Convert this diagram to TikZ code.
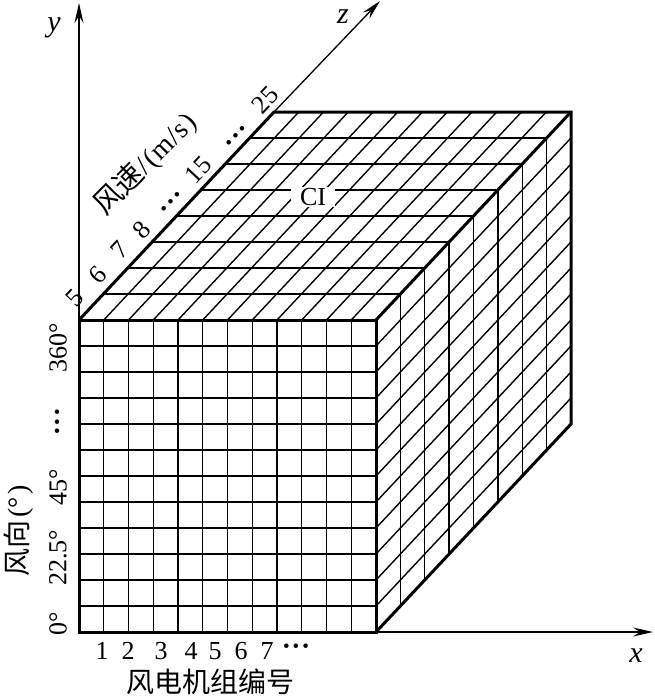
\documentclass[tikz,border=0pt]{standalone}
\usepackage{fontspec}
\setmainfont{Liberation Serif}
\newfontfamily\cjk{Noto Sans CJK SC}
\usetikzlibrary{arrows.meta}
\newcommand\mydots{{\fontsize{19}{19}\selectfont •\hspace{3pt}•\hspace{3pt}•}}
\begin{document}
\begin{tikzpicture}[x=1pt,y=-1pt,
  edge/.style={line width=3pt, line join=miter},
  gridline/.style={line width=1.4pt},
  axis/.style={line width=1.3pt, -{Stealth[length=20pt,width=9pt,inset=7pt]}},
  lab/.style={inner sep=0pt, font=\fontsize{26}{26}\selectfont},
  axlab/.style={inner sep=0pt, font=\fontsize{30}{30}\selectfont\itshape},
  zh/.style={inner sep=0pt, font=\fontsize{28}{28}\selectfont\cjk},
]
\useasboundingbox (0,0) rectangle (655,697);
% cube corners
\coordinate (A) at (79,632);
\coordinate (B) at (376,632);
\coordinate (C) at (376,320);
\coordinate (D) at (79,320);
\coordinate (E) at (274,112);
\coordinate (F) at (571,112);
\coordinate (G) at (571,424);
% axes
\coordinate (ytip) at (79,3);
\coordinate (ztip) at (380,1);
\coordinate (xtip) at (653,632);
\draw[axis] (D) -- (ytip);
\draw[axis] (E) -- (ztip);
\draw[axis] (B) -- (xtip);
% grids
\foreach \i in {1,...,11}{
  \draw[gridline] ({79+24.75*\i},320) -- ({79+24.75*\i},632);
  \draw[gridline] (79,{320+26*\i}) -- (376,{320+26*\i});
  \draw[gridline] ({79+24.75*\i},320) -- ({274+24.75*\i},112);
  \draw[gridline] (376,{320+26*\i}) -- (571,{112+26*\i});
}
\foreach \j in {1,...,7}{
  \draw[gridline] ({79+24.375*\j},{320-26*\j}) -- ({376+24.375*\j},{320-26*\j});
  \draw[gridline] ({376+24.375*\j},{320-26*\j}) -- ({376+24.375*\j},{632-26*\j});
}
% thick edges
\draw[edge] (A) rectangle (C);
\draw[edge] (D) -- (E) -- (F) -- (G) -- (B);
\draw[edge] (C) -- (F);
% CI
\node[lab, fill=white, inner xsep=9pt, inner ysep=1pt] (ci) at (313,197) {CI};
% axis labels
\node[axlab] (ylab) at (54,28) {y};
\node[axlab] (zlab) at (343,17) {z};
\node[axlab] (xlab) at (636,656) {x};
% x numbers
\node[lab] (n1) at (102,651) {1};
\node[lab] (n2) at (128,651) {2};
\node[lab] (n3) at (161,651) {3};
\node[lab] (n4) at (191,651) {4};
\node[lab] (n5) at (215,651) {5};
\node[lab] (n6) at (241,651) {6};
\node[lab] (n7) at (267,651) {7};
\node[lab] (ndots) at (296,648) {\mydots};
\node[zh] (xname) at (210,682) {风电机组编号};
% y labels
\node[lab, rotate=90] (d0) at (58,624) {0°};
\node[lab, rotate=90] (d225) at (58,558) {22.5°};
\node[lab, rotate=90] (d45) at (58,487) {45°};
\node[lab, rotate=90] (ddots) at (59,422) {\mydots};
\node[lab, rotate=90] (d360) at (58,348) {360°};
\node[zh, rotate=90] (yname) at (19,531) {风向{\rmfamily\fontsize{28}{28}\selectfont\hspace{3pt}(°\hspace{2pt})}};
% z labels
\node[lab, rotate=46.8] (s5) at (75,298) {5};
\node[lab, rotate=46.8] (s6) at (98,275) {6};
\node[lab, rotate=46.8] (s7) at (120,250) {7};
\node[lab, rotate=46.8] (s8) at (142,230) {8};
\node[lab, rotate=46.8] (sdots1) at (172,203) {\mydots};
\node[lab, rotate=46.8] (s15) at (198,170) {15};
\node[lab, rotate=46.8] (sdots2) at (237,137) {\mydots};
\node[lab, rotate=46.8] (s25) at (265,100) {25};
\node[lab, rotate=45] (zname) at (145,164) {{\cjk\fontsize{29}{29}\selectfont 风速}\fontsize{28}{28}\selectfont\hspace{1pt}/\hspace{1pt}(\hspace{1pt}m\hspace{1pt}/\hspace{1pt}s\hspace{1pt})};
\end{tikzpicture}
\end{document}
